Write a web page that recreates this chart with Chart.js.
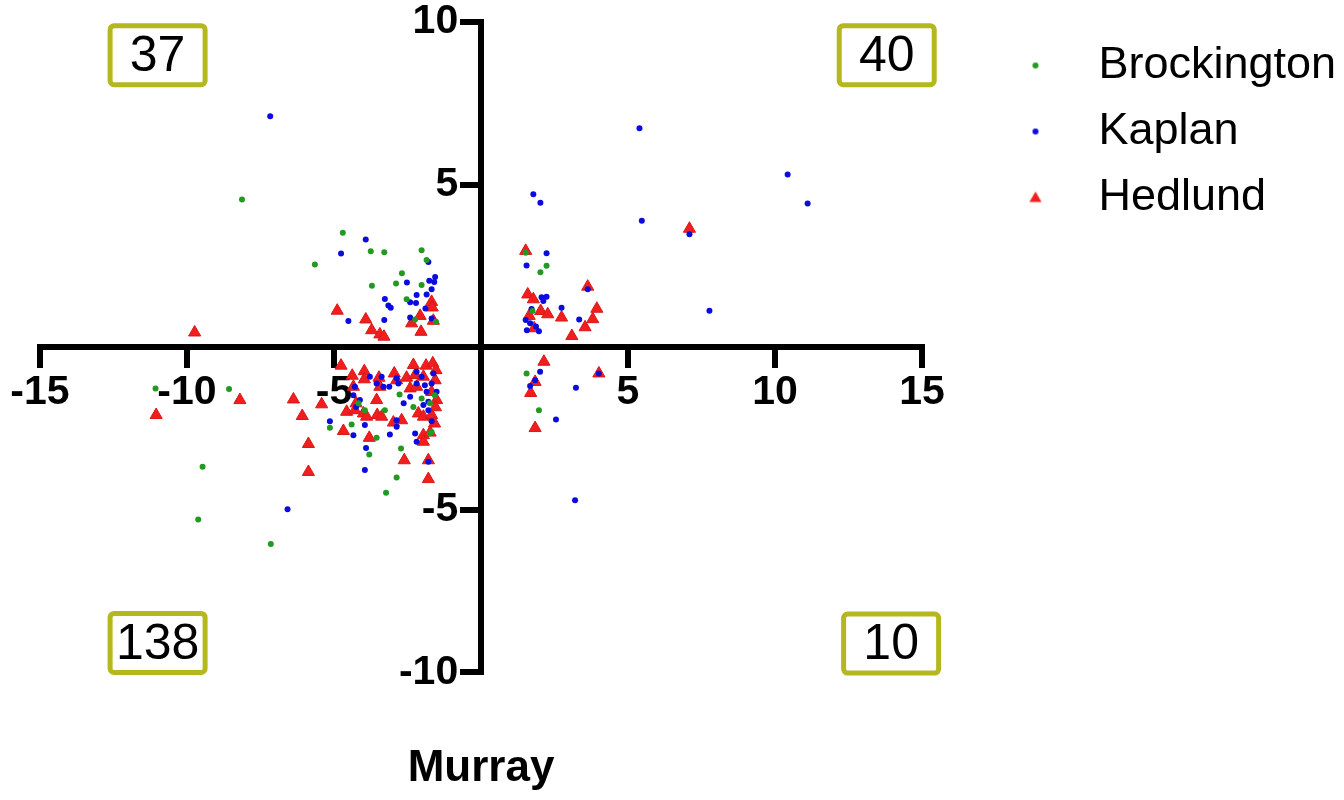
<!DOCTYPE html>
<html>
<head>
<meta charset="utf-8">
<script src="https://cdn.jsdelivr.net/npm/chart.js@4.4.0/dist/chart.umd.min.js"></script>
<style>
html, body { margin: 0; padding: 0; background: #fff; }
</style>
</head>
<body>
<canvas id="quadChart" width="1344" height="800"></canvas>
<script>
// Brockington
var brockX = [-4.70, -3.75, -3.29, -2.02, -5.65, -1.85, -2.69, -2.89, -2.02, -3.71, -2.53, -1.53, -2.24, -8.13,
  1.52, 2.23, 2.02, 1.75,
  -11.07, -8.57, -9.47, -9.62, -7.15, -5.14, -4.40, -3.55, -3.80, -2.72, -2.87, -3.23, -4.17, -3.95, -3.27,
  -2.77, -2.30, -2.02, -1.74, -1.57, -1.74, -1.68,
  1.55, 1.97];
var brockY = [3.52, 2.95, 2.92, 2.98, 2.54, 2.68, 2.27, 1.96, 1.91, 1.89, 1.47, 0.78, 0.85, 4.54,
  2.90, 2.50, 2.30, 1.11,
  -1.27, -1.29, -3.68, -5.30, -6.06, -2.48, -2.38, -2.79, -3.30, -3.12, -4.01, -4.48, -1.73, -1.94, -1.94,
  -1.46, -1.84, -1.58, -1.73, -1.48, -2.66, -2.61,
  -0.81, -1.94];

// Kaplan
var kaplanX = [-7.17, -3.92, -4.76, -1.79, -1.56, -1.76, -1.59, -2.52, -1.68, -2.19, -1.85, -3.27, -2.41, -2.21,
  -3.15, -3.07, -1.89, -4.51, -3.29, -2.41, -1.68,
  5.39, 10.43, 11.11, 1.78, 2.02, 5.47, 7.09, 2.23, 1.55, 3.63, 2.06, 2.23, 2.12, 2.74, 1.72, 1.52, 1.67,
  1.56, 1.87, 1.97, 3.34, 7.77,
  -6.58, -3.78, -3.38, -3.55, -3.32, -3.12, -2.87, -2.81, -2.19, -2.02, -2.19, -1.91, -1.68, -1.62, -1.85,
  -1.51, -4.29, -4.12, -4.25, -3.95, -5.14, -4.34, -3.10, -2.87, -2.24, -2.19, -1.68, -1.79, -1.96, -1.79,
  -2.63, -2.41, -3.91, -3.95, -1.79, -2.87, -4.34,
  2.01, 1.84, 1.67, 3.23, 4.01, 2.55, 3.20];
var kaplanY = [7.10, 3.31, 2.88, 2.62, 2.16, 2.04, 2.00, 1.99, 1.78, 1.60, 1.62, 1.48, 1.38, 1.36,
  1.28, 1.21, 1.19, 0.80, 0.83, 0.91, 0.88,
  6.73, 5.31, 4.42, 4.70, 4.44, 3.89, 3.47, 2.89, 2.51, 1.78, 1.53, 1.55, 1.42, 1.21, 1.17, 0.83, 0.73,
  0.52, 0.63, 0.49, 0.85, 1.12,
  -4.99, -0.91, -0.91, -1.12, -1.22, -1.22, -0.96, -1.12, -0.76, -0.91, -1.12, -1.17, -1.12, -0.81, -1.37,
  -1.37, -1.22, -1.63, -1.84, -2.40, -2.28, -2.71, -2.69, -2.45, -2.66, -2.91, -2.28, -1.94, -1.78, -1.68,
  -1.73, -1.53, -3.10, -3.78, -3.53, -2.25, -1.48,
  -0.76, -1.02, -1.20, -1.25, -0.81, -2.23, -4.71];

// Hedlund
var hedlundX = [-9.74, -4.89, -3.92, -1.68, -1.66, -2.07, -2.36, -1.62, -3.72, -3.44, -3.30, -2.04,
  1.52, 3.63, 7.09, 1.59, 1.78, 3.94, 2.03, 2.27, 2.74, 3.80, 1.64, 1.81, 3.54, 3.09,
  -11.05, -8.20, -6.38, -6.08, -4.76, -4.38, -4.34, -3.97, -3.97, -3.47, -3.44, -2.95, -2.87, -2.53, -2.30,
  -2.24, -1.87, -1.64, -1.53, -1.96, -1.56, -2.41, -2.19, -1.68, -1.51, -5.42, -4.57, -4.29, -4.00, -3.89,
  -3.53, -3.38, -3.55, -2.98, -2.70, -2.13, -1.96, -1.68, -1.96, -1.73, -1.96, -4.68, -3.80, -5.87, -5.87,
  -2.61, -1.79, -1.79, -4.25, -1.55, -1.58,
  2.14, 1.84, 1.69, 4.01, 1.84];
var hedlundY = [0.45, 1.12, 0.85, 1.39, 1.22, 0.96, 0.73, 0.81, 0.52, 0.39, 0.32, 0.47,
  2.96, 1.86, 3.64, 1.62, 1.47, 1.18, 1.11, 1.01, 0.91, 0.86, 0.96, 0.58, 0.61, 0.34,
  -2.09, -1.63, -1.61, -2.12, -0.57, -0.88, -1.22, -0.74, -0.99, -0.94, -1.22, -0.81, -1.02, -0.94, -0.55,
  -0.86, -0.57, -0.50, -0.71, -0.91, -1.02, -1.27, -1.22, -1.38, -1.63, -1.76, -1.99, -1.94, -2.04, -2.14,
  -2.09, -2.14, -1.63, -2.32, -2.25, -2.04, -2.14, -2.09, -2.71, -2.63, -2.91, -2.58, -2.79, -2.98, -3.84,
  -3.48, -3.48, -4.06, -1.73, -1.85, -2.35,
  -0.45, -1.07, -1.41, -0.81, -2.49];

var seriesNames = ['Brockington', 'Kaplan', 'Hedlund'];
var xTicks = [-15, -10, -5, 0, 5, 10, 15];
var yTicks = [-10, -5, 0, 5, 10];
var quadrantCounts = [37, 40, 138, 10];
var countSpots = [[-11.0, 8.98], [13.8, 8.98], [-11.0, -9.1], [13.95, -9.12]];

var FONT = '"Liberation Sans", Arial, Helvetica, sans-serif';
Chart.defaults.font.family = FONT;
Chart.defaults.color = '#000';

function toPoints(xs, ys) {
  return xs.map(function (x, i) { return {x: x, y: ys[i]}; });
}

// small canvases used as legend markers
function dotMark(color, r) {
  var c = document.createElement('canvas');
  c.width = c.height = r * 2 + 2;
  var g = c.getContext('2d');
  g.fillStyle = color;
  g.beginPath();
  g.arc(r + 1, r + 1, r, 0, Math.PI * 2);
  g.fill();
  return c;
}
function triMark(color, r) {
  var c = document.createElement('canvas');
  c.width = c.height = r * 2 + 2;
  var g = c.getContext('2d');
  var cx = r + 1, cy = r + 2;
  g.fillStyle = color;
  g.beginPath();
  g.moveTo(cx, cy - r);
  g.lineTo(cx + r * 0.866, cy + r * 0.5);
  g.lineTo(cx - r * 0.866, cy + r * 0.5);
  g.closePath();
  g.fill();
  return c;
}
var legendMarks = [dotMark('#229a22', 3), dotMark('#0b0be0', 3), triMark('#f21d1d', 7)];

var countBoxes = {
  id: 'countBoxes',
  afterDraw: function (chart) {
    var ctx = chart.ctx, sx = chart.scales.x, sy = chart.scales.y;
    ctx.save();
    quadrantCounts.forEach(function (n, i) {
      var cx = sx.getPixelForValue(countSpots[i][0]);
      var cy = sy.getPixelForValue(countSpots[i][1]);
      ctx.lineWidth = 5;
      ctx.strokeStyle = '#b4b71e';
      ctx.fillStyle = '#fff';
      ctx.beginPath();
      if (ctx.roundRect) ctx.roundRect(cx - 47.5, cy - 29.5, 95, 59, 4);
      else ctx.rect(cx - 47.5, cy - 29.5, 95, 59);
      ctx.fill();
      ctx.stroke();
      ctx.fillStyle = '#000';
      ctx.font = '50px ' + FONT;
      ctx.textAlign = 'center';
      ctx.textBaseline = 'middle';
      ctx.fillText(String(n), cx, cy + 2);
    });
    ctx.restore();
  }
};

var axisStyle = function (ticks, pad, fmt) {
  return {
    type: 'linear',
    min: ticks[0],
    max: ticks[ticks.length - 1],
    z: 1,
    afterBuildTicks: function (s) { s.ticks = ticks.map(function (v) { return {value: v}; }); },
    ticks: {
      font: {size: 41, weight: 'bold', lineHeight: 1},
      color: '#000',
      padding: pad,
      maxRotation: 0,
      autoSkip: false,
      callback: fmt
    },
    grid: {drawOnChartArea: false, drawTicks: true, tickLength: 18, tickWidth: 6, tickColor: '#000', lineWidth: 6, color: '#000'},
    border: {display: true, width: 6, color: '#000'}
  };
};

var xAxis = axisStyle(xTicks, 7, function (v) { return v === 0 ? '' : String(v); });
xAxis.position = {y: 0};
// labels of a centred y axis sit on the axis itself, so pad them with trailing spaces
var yAxis = axisStyle(yTicks, 0, function (v) { return v === 0 ? '' : v + '  '; });
yAxis.position = {x: 0};

new Chart(document.getElementById('quadChart'), {
  type: 'scatter',
  data: {
    datasets: [{
      label: seriesNames[0],
      data: toPoints(brockX, brockY),
      pointStyle: 'circle',
      pointRadius: 3,
      pointBorderWidth: 0,
      backgroundColor: '#229a22',
      borderColor: '#229a22'
    }, {
      label: seriesNames[1],
      data: toPoints(kaplanX, kaplanY),
      pointStyle: 'circle',
      pointRadius: 3,
      pointBorderWidth: 0,
      backgroundColor: '#0b0be0',
      borderColor: '#0b0be0'
    }, {
      label: seriesNames[2],
      data: toPoints(hedlundX, hedlundY),
      pointStyle: 'triangle',
      pointRadius: 7,
      pointBorderWidth: 1,
      backgroundColor: '#f21d1d',
      borderColor: '#d81818'
    }]
  },
  options: {
    responsive: false,
    animation: false,
    events: [],
    layout: {padding: {left: 40, top: 22, right: 0, bottom: 0}},
    scales: {
      x: xAxis,
      y: yAxis,
      spacer: {
        type: 'linear',
        position: 'right',
        display: true,
        grid: {display: false},
        border: {display: false},
        ticks: {display: false},
        afterFit: function (s) { s.width = 52; }
      }
    },
    plugins: {
      legend: {
        position: 'right',
        align: 'start',
        maxWidth: 370,
        labels: {
          usePointStyle: true,
          pointStyleWidth: 81,
          padding: 21,
          font: {size: 45},
          color: '#000',
          generateLabels: function (chart) {
            var items = Chart.defaults.plugins.legend.labels.generateLabels(chart);
            items.forEach(function (it, i) { it.pointStyle = legendMarks[i]; });
            return items;
          }
        }
      },
      title: {
        display: true,
        position: 'bottom',
        fullSize: false,
        text: 'Murray',
        color: '#000',
        font: {size: 44, weight: 'bold'},
        padding: {top: 70, bottom: 5}
      },
      tooltip: {enabled: false}
    }
  },
  plugins: [countBoxes]
});
</script>
</body>
</html>
